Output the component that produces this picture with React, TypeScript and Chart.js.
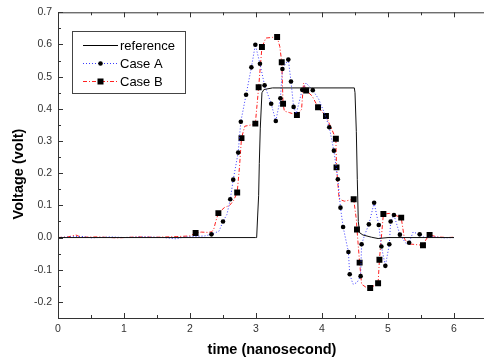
import React, { useEffect, useRef } from 'react';
import { Chart, registerables } from 'chart.js';

Chart.register(...registerables);

// ---- Data (time in ns, voltage in V) ----
const refX = [0, 2.99, 3.01, 3.025, 3.04, 3.05, 3.065, 3.09, 3.12, 3.25, 4.49, 4.5, 4.52, 4.535, 4.55, 4.57, 4.62, 4.75, 4.85, 5.0, 6.0];
const refY = [0, 0, 0.0, 0.067, 0.13, 0.23, 0.34, 0.45, 0.46, 0.465, 0.465, 0.45, 0.33, 0.18, 0.05, 0.015, 0.008, 0.001, -0.003, 0.0, 0.0];

// Case A: points carrying a marker
const caseAMarkX = [2.325, 2.5, 2.61, 2.655, 2.73, 2.77, 2.85, 2.93, 2.99, 3.06, 3.13, 3.23, 3.3, 3.37, 3.4, 3.49, 3.53, 3.57, 3.7, 3.86, 4.11, 4.18, 4.24, 4.28, 4.32, 4.4, 4.42, 4.585, 4.6, 4.71, 4.79, 4.86, 4.9, 4.96, 5.02, 5.04, 5.09, 5.18, 5.32, 5.48];
const caseAMarkY = [0.01, 0.05, 0.119, 0.18, 0.264, 0.36, 0.444, 0.529, 0.599, 0.54, 0.473, 0.416, 0.362, 0.433, 0.524, 0.553, 0.485, 0.406, 0.459, 0.458, 0.343, 0.27, 0.181, 0.093, 0.033, -0.045, -0.114, -0.12, -0.021, 0.041, 0.108, 0.039, -0.028, -0.088, -0.021, 0.05, 0.07, 0.009, -0.016, 0.01];
// Case A: line-only points
const caseALineX = [0, 0.2, 0.35, 0.5, 0.8, 1.0, 1.3, 1.6, 1.79, 1.9, 2.04, 2.22, 2.44, 2.56, 3.61, 3.76, 3.95, 4.03, 4.47, 4.53, 4.65, 5.28, 5.38, 5.55, 5.7, 5.85, 6.0];
const caseALineY = [0, 0.002, 0.004, -0.001, 0.002, 0.0, 0.002, 0.0, -0.004, 0.001, 0.003, 0.005, 0.02, 0.072, 0.385, 0.48, 0.43, 0.39, -0.145, -0.14, 0.01, -0.02, 0.017, 0.0, 0.002, -0.001, 0.0];

// Case B: points carrying a marker
const caseBMarkX = [2.085, 2.43, 2.715, 2.78, 2.99, 3.04, 3.09, 3.32, 3.39, 3.41, 3.62, 3.76, 3.94, 4.06, 4.21, 4.22, 4.48, 4.53, 4.57, 4.73, 4.85, 4.87, 4.93, 5.2, 5.53, 5.63];
const caseBMarkY = [0.014, 0.076, 0.14, 0.309, 0.354, 0.467, 0.592, 0.623, 0.545, 0.416, 0.381, 0.457, 0.405, 0.378, 0.307, 0.218, 0.119, 0.025, -0.078, -0.157, -0.142, -0.069, 0.073, 0.062, -0.024, 0.008];
// Case B: line-only points
const caseBLineX = [0, 0.15, 0.27, 0.35, 0.6, 0.9, 1.2, 1.5, 1.8, 2.0, 2.17, 2.27, 2.33, 2.36, 2.39, 2.52, 2.6, 2.66, 2.75, 2.83, 2.95, 3.15, 3.25, 3.36, 3.43, 3.51, 3.69, 3.72, 3.85, 4.26, 4.34, 4.52, 4.6, 4.67, 5.02, 5.1, 5.25, 5.33, 5.58, 5.75, 5.9, 6.0];
const caseBLineY = [0, 0.002, 0.008, 0.001, 0.002, -0.001, 0.002, 0.001, 0.003, 0.005, 0.017, 0.016, 0.018, 0.026, 0.05, 0.093, 0.1, 0.115, 0.22, 0.346, 0.351, 0.62, 0.622, 0.594, 0.393, 0.388, 0.398, 0.48, 0.44, 0.119, 0.113, 0.057, -0.145, -0.155, 0.075, 0.07, -0.005, -0.02, -0.005, 0.002, 0.0, 0.001];

const xTickValues = [0, 1, 2, 3, 4, 5, 6];
const yTickValues = [-0.2, -0.1, 0.0, 0.1, 0.2, 0.3, 0.4, 0.5, 0.6, 0.7];
const legendLabels = ['reference', 'Case A', 'Case B'];
const xTitle = 'time (nanosecond)';
const yTitle = 'Voltage (volt)';

const FONT = "'Liberation Sans', Arial, Helvetica, sans-serif";
const BLUE = '#3a3aff';
const RED = '#ff2020';

function buildSeries(mx: number[], my: number[], lx: number[], ly: number[]) {
  const pts = mx.map((x, i) => ({ x, y: my[i], m: true }))
    .concat(lx.map((x, i) => ({ x, y: ly[i], m: false })));
  pts.sort((a, b) => a.x - b.x);
  return pts;
}

const framePlugin = {
  id: 'frameAndLegend',
  afterDatasetsDraw(chart: any) {
    const { ctx, chartArea: a, scales } = chart;
    const xs = scales.x;
    const ys = scales.y;
    ctx.save();
    // frame (left, bottom, top)
    ctx.strokeStyle = '#333';
    ctx.lineWidth = 1;
    ctx.setLineDash([]);
    ctx.beginPath();
    ctx.moveTo(a.left + 0.5, a.top);
    ctx.lineTo(a.left + 0.5, a.bottom + 0.5);
    ctx.lineTo(a.right, a.bottom + 0.5);
    ctx.moveTo(a.left, a.top + 0.5);
    ctx.lineTo(a.right, a.top + 0.5);
    ctx.stroke();
    // x ticks (bottom and top, inward)
    ctx.beginPath();
    for (let i = 0; i <= 13; i++) {
      const v = i * 0.5;
      const px = Math.round(xs.getPixelForValue(v)) + 0.5;
      const len = i % 2 === 0 ? 5 : 3;
      ctx.moveTo(px, a.bottom);
      ctx.lineTo(px, a.bottom - len);
      ctx.moveTo(px, a.top);
      ctx.lineTo(px, a.top + len);
    }
    // y ticks (left, inward)
    for (let i = 0; i <= 19; i++) {
      const v = -0.25 + i * 0.05;
      const py = Math.round(ys.getPixelForValue(v)) + 0.5;
      const len = i % 2 === 1 ? 5 : 3;
      ctx.moveTo(a.left, py);
      ctx.lineTo(a.left + len, py);
    }
    ctx.stroke();

    // axis titles
    ctx.fillStyle = '#000';
    ctx.font = `bold 14.5px ${FONT}`;
    ctx.textAlign = 'center';
    ctx.textBaseline = 'middle';
    ctx.fillText(xTitle, 272, 350);
    ctx.save();
    ctx.translate(18.5, 174);
    ctx.rotate(-Math.PI / 2);
    ctx.fillText(yTitle, 0, 0);
    ctx.restore();

    // legend
    const bx = 72.5, by = 31.5, bw = 113, bh = 62;
    ctx.fillStyle = '#fff';
    ctx.fillRect(bx, by, bw, bh);
    ctx.strokeStyle = '#444';
    ctx.lineWidth = 1;
    ctx.strokeRect(bx, by, bw, bh);
    const rows = [45.5, 63.5, 81.5];
    const x0 = 83, x1 = 118, xm = 100.5;
    ctx.font = `13px ${FONT}`;
    ctx.textAlign = 'left';
    ctx.textBaseline = 'middle';
    // reference
    ctx.strokeStyle = '#000';
    ctx.setLineDash([]);
    ctx.beginPath(); ctx.moveTo(x0, rows[0]); ctx.lineTo(x1, rows[0]); ctx.stroke();
    // case A
    ctx.strokeStyle = BLUE;
    ctx.setLineDash([1, 2]);
    ctx.beginPath(); ctx.moveTo(x0, rows[1]); ctx.lineTo(x1, rows[1]); ctx.stroke();
    ctx.setLineDash([]);
    ctx.fillStyle = '#000';
    ctx.beginPath(); ctx.arc(xm, rows[1], 2.3, 0, Math.PI * 2); ctx.fill();
    // case B
    ctx.strokeStyle = RED;
    ctx.setLineDash([4, 2, 1, 2]);
    ctx.beginPath(); ctx.moveTo(x0, rows[2]); ctx.lineTo(x1, rows[2]); ctx.stroke();
    ctx.setLineDash([]);
    ctx.fillRect(xm - 3, rows[2] - 3, 6, 6);
    ctx.fillStyle = '#000';
    legendLabels.forEach((t, i) => ctx.fillText(t, 120, rows[i] + 0.5));
    ctx.restore();
  },
};

export default function App() {
  const canvasRef = useRef<HTMLCanvasElement | null>(null);

  useEffect(() => {
    document.body.style.margin = '0';
    document.body.style.overflow = 'hidden';
    const canvas = canvasRef.current;
    if (!canvas) return;

    const markerRadius = (r: number) => (c: any) => (c.raw && c.raw.m ? r : 0);

    const chart = new Chart(canvas, {
      type: 'line',
      data: {
        datasets: [
          {
            label: legendLabels[0],
            data: refX.map((x, i) => ({ x, y: refY[i] })),
            borderColor: '#111',
            borderWidth: 1,
            pointRadius: 0,
            tension: 0,
          },
          {
            label: legendLabels[1],
            data: buildSeries(caseAMarkX, caseAMarkY, caseALineX, caseALineY) as any,
            borderColor: BLUE,
            borderWidth: 1,
            borderDash: [1, 2],
            pointRadius: markerRadius(2.3) as any,
            pointStyle: 'circle',
            pointBackgroundColor: '#000',
            pointBorderColor: '#000',
            pointBorderWidth: 0,
            tension: 0,
          },
          {
            label: legendLabels[2],
            data: buildSeries(caseBMarkX, caseBMarkY, caseBLineX, caseBLineY) as any,
            borderColor: RED,
            borderWidth: 1,
            borderDash: [4, 2, 1, 2],
            pointRadius: markerRadius(4.2) as any,
            pointStyle: 'rect',
            pointBackgroundColor: '#000',
            pointBorderColor: '#000',
            pointBorderWidth: 0,
            tension: 0,
          },
        ],
      },
      options: {
        responsive: false,
        animation: false,
        events: [],
        layout: { padding: { top: 12, right: 2, left: 0, bottom: 0 } },
        plugins: { legend: { display: false }, tooltip: { enabled: false } },
        scales: {
          x: {
            type: 'linear',
            min: 0,
            max: 6.5,
            bounds: 'data',
            grid: { display: false, drawTicks: false },
            border: { display: false },
            afterFit: (s: any) => { s.height = 46; },
            afterBuildTicks: (s: any) => { s.ticks = xTickValues.map((v) => ({ value: v })); },
            ticks: {
              padding: 5,
              autoSkip: false,
              maxRotation: 0,
              color: '#333',
              font: { family: FONT, size: 10.5 },
              callback: (v: any) => String(v),
            },
          },
          y: {
            type: 'linear',
            min: -0.25,
            max: 0.7,
            bounds: 'data',
            grid: { display: false, drawTicks: false },
            border: { display: false },
            afterFit: (s: any) => { s.width = 58; },
            afterBuildTicks: (s: any) => { s.ticks = yTickValues.map((v) => ({ value: v })); },
            ticks: {
              padding: 6,
              autoSkip: false,
              color: '#333',
              font: { family: FONT, size: 10.5 },
              callback: (v: any) => Number(v).toFixed(1),
            },
          },
        },
      },
      plugins: [framePlugin],
    });

    return () => chart.destroy();
  }, []);

  return (
    <div style={{ width: 484, height: 364, overflow: 'hidden', position: 'relative' }}>
      <canvas ref={canvasRef} width={489} height={364} style={{ display: 'block', width: 489, height: 364 }} />
    </div>
  );
}
